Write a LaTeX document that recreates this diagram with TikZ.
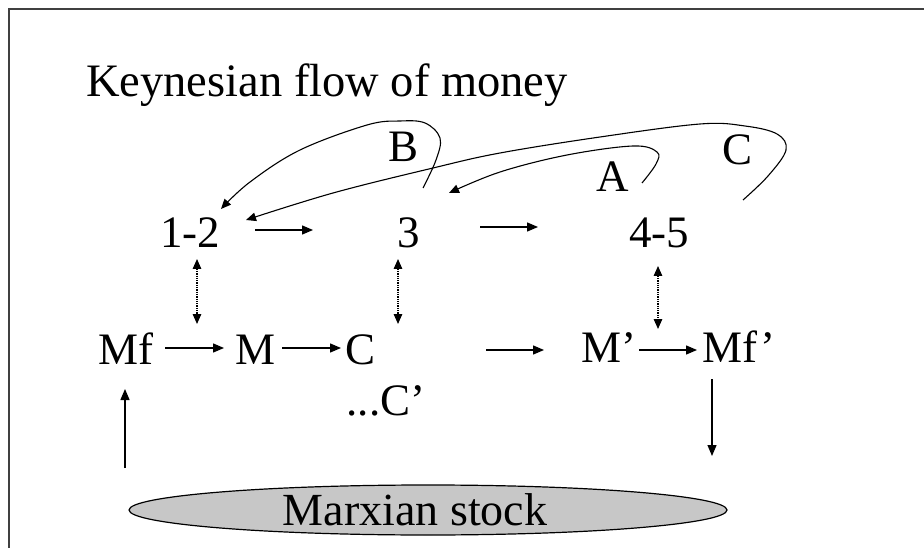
\documentclass[tikz,border=0pt]{standalone}
\usepackage{fontspec}
\setmainfont{Liberation Serif}
\usetikzlibrary{arrows.meta,shapes.geometric}
\tikzset{
  lbl/.style={font=\fontsize{45}{50}\selectfont, anchor=base, inner sep=0pt},
  arr/.style={line width=1.3pt, -{Triangle[length=11pt,width=9pt]}},
  dotarr/.style={line width=1.3pt, densely dotted, {Triangle[length=10pt,width=8.5pt]}-{Triangle[length=10pt,width=8.5pt]}},
  loopcurve/.style={line width=1.1pt, -{Triangle[length=10pt,width=8.5pt]}},
  frameline/.style={line width=2pt, black!75},
  stockell/.style={ellipse, draw=black, line width=1.2pt, fill=black!22, minimum width=598pt, minimum height=50pt, inner sep=0pt, font=\fontsize{46}{50}\selectfont}
}
\begin{document}
\begin{tikzpicture}[x=1pt,y=-1pt]
\useasboundingbox (0,0) rectangle (924,548);
\fill[white] (0,0) rectangle (924,548);
\draw[frameline] (9,548) -- (9,9) -- (924,9);

% texts
\node[lbl, anchor=base west, font=\fontsize{46.5}{50}\selectfont] (title) at (86,97) {Keynesian flow of money};
\node[lbl] (n12) at (190,248) {1-2};
\node[lbl] (n3) at (409,248) {3};
\node[lbl] (n45) at (659,248) {4-5};
\node[lbl] (mf) at (126,364) {Mf};
\node[lbl] (m) at (256,364) {M};
\node[lbl] (c) at (361,364) {C};
\node[lbl] (cp) at (386,415) {...C’};
\node[lbl] (mp) at (609,362) {M’};
\node[lbl] (mfp) at (739,362) {Mf’};
\node[lbl] (la) at (613,192) {A};
\node[lbl] (lb) at (404,162) {B};
\node[lbl] (lc) at (737,165) {C};
\node[stockell] (stock) at (428,510) {\hspace*{-26pt}Marxian stock};

% arrow end points
\coordinate (h1s) at (255,230); \coordinate (h1e) at (313,230);
\coordinate (h2s) at (480,227); \coordinate (h2e) at (538,227);
\coordinate (h3s) at (165,348); \coordinate (h3e) at (224,348);
\coordinate (h4s) at (282,348); \coordinate (h4e) at (341,348);
\coordinate (h5s) at (486,350); \coordinate (h5e) at (544,350);
\coordinate (h6s) at (639,350); \coordinate (h6e) at (697,350);
\coordinate (d1t) at (197,259); \coordinate (d1b) at (197,324);
\coordinate (d2t) at (398,259); \coordinate (d2b) at (398,324);
\coordinate (d3t) at (658,266); \coordinate (d3b) at (658,329);
\coordinate (ups) at (125,468); \coordinate (upe) at (125,389);
\coordinate (dns) at (712,379); \coordinate (dne) at (712,456);

\draw[arr] (h1s) -- (h1e);
\draw[arr] (h2s) -- (h2e);
\draw[arr] (h3s) -- (h3e);
\draw[arr] (h4s) -- (h4e);
\draw[arr] (h5s) -- (h5e);
\draw[arr] (h6s) -- (h6e);
\draw[dotarr] (d1t) -- (d1b);
\draw[dotarr] (d2t) -- (d2b);
\draw[dotarr] (d3t) -- (d3b);
\draw[arr] (ups) -- (upe);
\draw[arr] (dns) -- (dne);

% loop curves
\draw[loopcurve] plot[smooth, tension=0.6] coordinates {(423,188) (436,160) (440,138) (425,123) (400,121) (367,125) (300,150) (250,182) (221,209)};
\draw[loopcurve] plot[smooth, tension=0.6] coordinates {(743,200) (768,176) (786,150) (777,134) (745,126) (700,124) (600,137) (500,153) (433,168) (333,193) (246,220)};
\draw[loopcurve] plot[smooth, tension=0.6] coordinates {(642,183) (656,164) (657,152) (633,146) (567,155) (500,172) (449,193)};
\end{tikzpicture}
\end{document}
